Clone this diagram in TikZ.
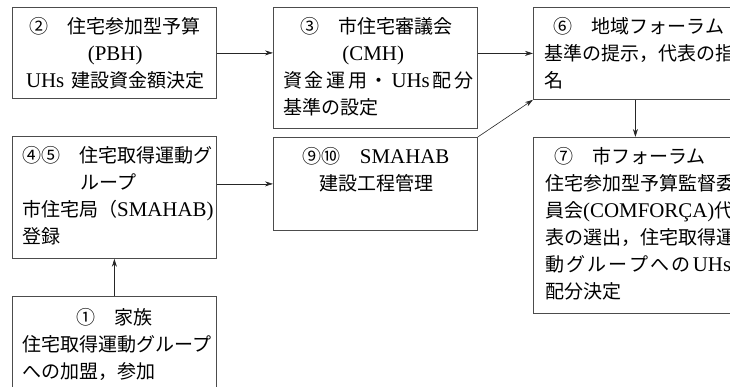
\documentclass[tikz,border=0pt]{standalone}
\usepackage{fontspec}
\setmainfont{Liberation Serif}[Scale=1.1]
\newfontfamily\jp{Noto Sans CJK JP}
\newcommand\J[1]{{\jp #1}}
\usetikzlibrary{arrows.meta}
\tikzset{
  box/.style={draw=black!70, line width=0.8pt, minimum width=204pt, anchor=north west, inner sep=0pt},
  txt/.style={anchor=north west, inner sep=0pt, text width=192pt, align=left, font=\fontsize{19}{27}\selectfont},
  arr/.style={-{Stealth[length=8pt,width=5pt]}, line width=0.6pt, draw=black!85}
}
\begin{document}
\begin{tikzpicture}[x=1pt,y=-1pt]
\useasboundingbox (0,0) rectangle (730,387);
\clip (0,0) rectangle (730,387);
% boxes
\node[box, minimum height=91pt]  (b2)  at (12,7)   {};
\node[box, minimum height=121pt] (b3)  at (273,7)  {};
\node[box, minimum height=92pt]  (b6)  at (533,7)  {};
\node[box, minimum height=122pt] (b45) at (12,136) {};
\node[box, minimum height=93pt]  (b910) at (273,137) {};
\node[box, minimum height=176pt] (b7)  at (533,137) {};
\node[box, minimum height=120pt] (b1)  at (12,296) {};
% texts
\node[txt] (t2) at ([xshift=10pt,yshift=-10pt]b2.north west) {%
\makebox[186pt]{\J{②　住宅参加型予算}}\\
\makebox[186pt]{(PBH)}\\
\makebox[186pt]{UHs \J{建設資金額決定}}};
\node[txt] (t3) at ([xshift=10pt,yshift=-10pt]b3.north west) {%
\makebox[186pt]{\J{③　市住宅審議会}}\\
\makebox[180pt]{(CMH)}\\
\makebox[190pt][s]{\J{資}\hfill\J{金}\hfill\J{運}\hfill\J{用}\hfill\J{・}\hfill UHs\hfill\J{配}\hfill\J{分}}\\
\J{基準の設定}};
\node[txt] (t6) at ([xshift=11pt,yshift=-10pt]b6.north west) {%
\makebox[190pt]{\J{⑥　地域フォーラム}}\\
\J{基準の提示，代表の指}\\
\J{名}};
\node[txt] (t45) at ([xshift=10pt,yshift=-10pt]b45.north west) {%
\J{④⑤　住宅取得運動グ}\\
\makebox[172pt]{\J{ループ}}\\
\J{市住宅局（}SMAHAB)\\
\J{登録}};
\node[txt] (t910) at ([xshift=10pt,yshift=-10pt]b910.north west) {%
\makebox[186pt]{\J{⑨⑩　}SMAHAB}\\
\makebox[186pt]{\J{建設工程管理}}};
\node[txt] (t7) at ([xshift=12pt,yshift=-10pt]b7.north west) {%
\makebox[170pt]{\J{⑦　市フォーラム}}\\
\J{住宅参加型予算監督委}\\
\J{員会}(COMFORÇA)\J{代}\\
\J{表の選出，住宅取得運}\\
\makebox[186pt][s]{\J{動}\hfill\J{グ}\hfill\J{ル}\hfill\J{ー}\hfill\J{プ}\hfill\J{へ}\hfill\J{の}\hfill UHs}\\
\J{配分決定}};
\node[txt] (t1) at ([xshift=10pt,yshift=-12pt]b1.north west) {%
\makebox[184pt]{\J{①　家族}}\\
\J{住宅取得運動グループ}\\
\J{への加盟，参加}};
% connectors
\draw[arr] (b2.east) -- (b2.east -| b3.west);
\draw[arr] (b3.east |- b6.west) -- (b6.west);
\draw[arr] (b910.north east) -- (b6.south west);
\draw[arr] (b45.east |- b910.west) -- (b910.west);
\draw[arr] (b6.south) -- (b7.north);
\draw[arr] (b1.north) -- (b45.south);
\end{tikzpicture}
\end{document}
